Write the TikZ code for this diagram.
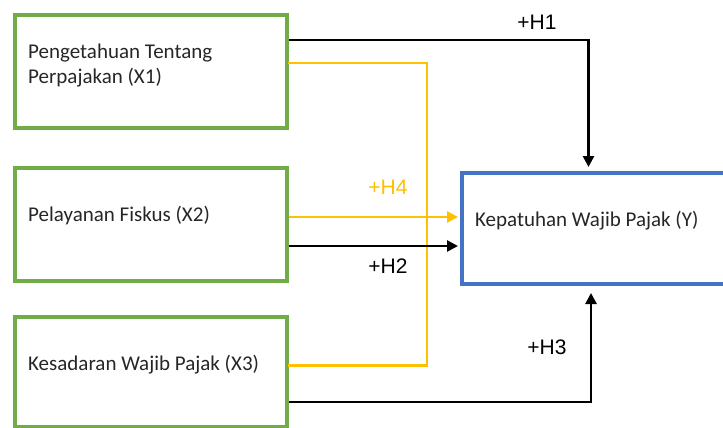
\documentclass[tikz,border=0pt]{standalone}
\usepackage{fontspec}
\setmainfont{Carlito}
\newfontfamily\arialf{Liberation Sans}
\usetikzlibrary{positioning,arrows.meta}
\definecolor{hijau}{HTML}{70AD47}
\definecolor{biru}{HTML}{4472C4}
\definecolor{kuning}{HTML}{FFC000}
\definecolor{teks}{HTML}{262626}
\begin{document}
\begin{tikzpicture}[x=1pt,y=-1pt,
    caja/.style={draw=hijau, line width=4pt, minimum width=272pt},
    cajay/.style={draw=biru, line width=4pt, minimum width=265pt, minimum height=111pt},
    texto/.style={anchor=west, inner sep=0pt, text=teks, font=\fontsize{21}{25}\selectfont, align=left},
    hip/.style={inner sep=0pt, font=\arialf\fontsize{21}{24}\selectfont},
    flecha/.style={line width=2.6pt, -{Triangle[length=11pt,width=11pt]}},
    linea/.style={line width=2.6pt, kuning}]
        \useasboundingbox (0,0) rectangle (723,428);

        % Cajas de las variables
        \node[caja, minimum height=113pt] (x1) at (151,71.5) {};
        \node[caja, minimum height=113pt] (x2) at (151,224.5) {};
        \node[caja, minimum height=109.5pt] (x3) at (151,371.75) {};
        \node[cajay] (y) at (594.5,228.5) {};

        % Textos dentro de las cajas
        \node[texto, right=15pt of x1.west, yshift=6pt] (x1t) {Pengetahuan Tentang\\Perpajakan (X1)};
        \node[texto, right=15pt of x2.west, yshift=8.5pt] (x2t) {Pelayanan Fiskus (X2)};
        \node[texto, right=15pt of x3.west, yshift=7pt] (x3t) {Kesadaran Wajib Pajak (X3)};
        \node[texto, right=15pt of y.west, yshift=7.5pt] (yt) {Kepatuhan Wajib Pajak (Y)};

        % Linea amarilla de X1 a X3
        \coordinate (h4x) at (427,0);
        \coordinate (h4a) at ([yshift=6pt]x3.east);
        \draw[linea, line cap=rect] ([yshift=8.5pt]x1.east) -| (h4a -| h4x) -- (h4a);

        % Flechas hacia Y
        \draw[flecha, shorten >=4pt] ([yshift=31.5pt]x1.east) -| ([xshift=-6pt]y.north);
        \draw[flecha, kuning, shorten >=2pt] ([yshift=7.5pt]x2.east) -- ([yshift=11.5pt]y.west);
        \draw[flecha, shorten >=2pt] ([yshift=-21.5pt]x2.east) -- ([yshift=-17.5pt]y.west);
        \draw[flecha, shorten >=7pt] ([yshift=-30.25pt]x3.east) -| ([xshift=-3.5pt]y.south);

        % Etiquetas de las hipotesis
        \node[hip] (h1) at (537,22) {+H1};
        \node[hip, kuning] (h4) at (388,187) {+H4};
        \node[hip] (h2) at (388,266) {+H2};
        \node[hip] (h3) at (547,347) {+H3};
\end{tikzpicture}
\end{document}
